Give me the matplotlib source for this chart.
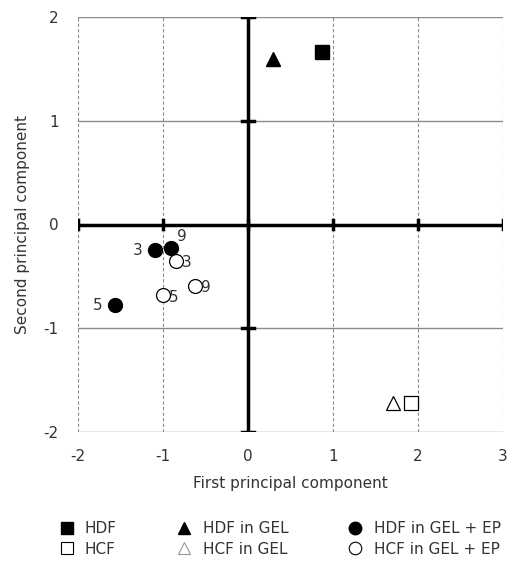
import matplotlib
matplotlib.use("Agg")
import matplotlib.pyplot as plt
from matplotlib.lines import Line2D

plt.rcParams['font.family'] = ['DejaVu Sans']
plt.rcParams['axes.unicode_minus'] = False

# Data
hdf = (0.87, 1.66)
hdf_gel = (0.29, 1.60)
hcf = (1.92, -1.72)
hcf_gel = (1.71, -1.72)
hdf_gel_ep_x = [-1.09, -0.91, -1.56]
hdf_gel_ep_y = [-0.25, -0.23, -0.78]
hdf_gel_ep_lab = ["3", "9", "5"]
hcf_gel_ep_x = [-0.85, -0.62, -1.00]
hcf_gel_ep_y = [-0.35, -0.59, -0.68]
hcf_gel_ep_lab = ["3", "9", "5"]

fig = plt.figure(figsize=(5.31, 5.62), dpi=100)
ax = fig.add_axes([78/531, 1-432/562, 425/531, 415/562])
ax.set_xlim(-2, 3)
ax.set_ylim(-2, 2)
for s in ax.spines.values():
    s.set_visible(False)

gray = '#8c8c8c'
for xv in [-2, -1, 1, 2, 3]:
    ax.axvline(xv, color=gray, lw=0.8, ls=(0, (3, 2)), zorder=0)
for yv in [-2, -1, 1, 2]:
    ax.axhline(yv, color=gray, lw=1.0, zorder=0)

# thick axes through origin
ax.plot([-2, 3], [0, 0], color='black', lw=2.5, zorder=1, solid_capstyle='butt')
ax.plot([0, 0], [-2, 2], color='black', lw=2.5, zorder=1, solid_capstyle='butt')
for xv in [-2, -1, 0, 1, 2, 3]:
    ax.plot([xv, xv], [-0.045, 0.045], color='black', lw=2.5, zorder=1)
for yv in [-2, -1, 1, 2]:
    ax.plot([-0.07, 0.07], [yv, yv], color='black', lw=2.5, zorder=1)

ax.set_xticks([-2, -1, 0, 1, 2, 3])
ax.set_yticks([-2, -1, 0, 1, 2])
ax.tick_params(axis='x', length=0, labelsize=11, pad=12, colors='#333333')
ax.tick_params(axis='y', length=0, labelsize=11, pad=14, colors='#333333')
ax.set_xlabel('First principal component', fontsize=11, color='#333333', labelpad=9)
ax.set_ylabel('Second principal component', fontsize=11, color='#333333', labelpad=10)

ms = 10
ax.plot(*hdf, marker='s', color='black', ms=ms, ls='none', zorder=3)
ax.plot(*hdf_gel, marker='^', color='black', ms=ms, ls='none', zorder=3)
ax.plot(*hcf, marker='s', mfc='white', mec='black', mew=0.9, ms=ms, ls='none', zorder=3)
ax.plot(*hcf_gel, marker='^', mfc='white', mec='black', mew=0.9, ms=ms, ls='none', zorder=3)
ax.plot(hdf_gel_ep_x, hdf_gel_ep_y, marker='o', color='black', ms=ms, ls='none', zorder=3)
ax.plot(hcf_gel_ep_x, hcf_gel_ep_y, marker='o', mfc='white', mec='black', mew=0.9, ms=ms, ls='none', zorder=3)

tkw = dict(fontsize=11, color='#333333', zorder=4)
offsets_f = [(-0.15, 0.0, 'right', 'center'), (0.07, 0.04, 'left', 'bottom'), (-0.15, 0.0, 'right', 'center')]
for x, y, l, (dx, dy, ha, va) in zip(hdf_gel_ep_x, hdf_gel_ep_y, hdf_gel_ep_lab, offsets_f):
    ax.text(x + dx, y + dy, l, ha=ha, va=va, **tkw)
for x, y, l in zip(hcf_gel_ep_x, hcf_gel_ep_y, hcf_gel_ep_lab):
    ax.text(x + 0.07, y - 0.02, l, ha='left', va='center', **tkw)

handles = [
    Line2D([], [], marker='s', color='black', ls='none', ms=9),
    Line2D([], [], marker='s', mfc='white', mec='black', mew=0.8, ls='none', ms=9),
    Line2D([], [], marker='^', color='black', ls='none', ms=9),
    Line2D([], [], marker='^', mfc='white', mec='#999999', mew=0.8, ls='none', ms=9),
    Line2D([], [], marker='o', color='black', ls='none', ms=9),
    Line2D([], [], marker='o', mfc='white', mec='black', mew=0.8, ls='none', ms=9),
]
labels = ['HDF', 'HCF', 'HDF in GEL', 'HCF in GEL', 'HDF in GEL + EP', 'HCF in GEL + EP']
fig.legend(handles, labels, ncol=3, loc='center', bbox_to_anchor=(0.527, 1-539/562),
           frameon=False, fontsize=11, handlelength=1.0, handletextpad=0.7,
           columnspacing=3.9, labelspacing=0.35, labelcolor='#333333')

fig.savefig('out.png', dpi=100)
